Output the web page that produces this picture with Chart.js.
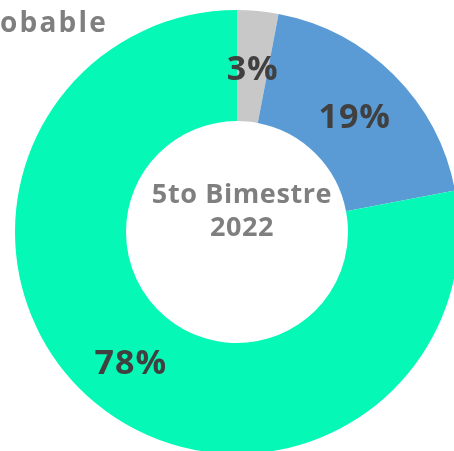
<!DOCTYPE html>
<html>
<head>
<meta charset="utf-8">
<script src="https://cdn.jsdelivr.net/npm/chart.js@4/dist/chart.umd.min.js"></script>
<style>
  body { margin: 0; width: 454px; height: 451px; overflow: hidden; background: #fff; position: relative; }
  #wrap { position: absolute; left: 0; top: 0; }
  #label { position: absolute; left: 0; top: 2px; font: bold 28px "Open Sans", sans-serif; letter-spacing: 2.2px; color: #7f7f7f; z-index: 2; }
</style>
</head>
<body>
<div id="label">obable</div>
<div id="wrap"><canvas id="myChart" width="474" height="464"></canvas></div>
<script>
const labels = ["Gris", "Azul", "Verde"];
const values = [3, 19, 78];
const colors = ["#c8c8c8", "#5b9bd5", "#05f8b5"];
const centerText = ["5to Bimestre", "2022"];

// porcentajes dentro de cada arco + texto central
const labelPlugin = {
    id: "labelPlugin",
    afterDraw(chart) {
        const ctx = chart.ctx;
        const meta = chart.getDatasetMeta(0);
        ctx.save();
        ctx.textAlign = "center";
        ctx.textBaseline = "middle";
        ctx.fillStyle = "#404040";
        ctx.font = "bold 34px 'Open Sans', sans-serif";
        ctx.letterSpacing = "1px";
        meta.data.forEach((arc, i) => {
            const p = arc.getCenterPoint();
            ctx.fillText(values[i] + "%", p.x, p.y + 4);
        });
        const cx = (chart.chartArea.left + chart.chartArea.right) / 2;
        const cy = (chart.chartArea.top + chart.chartArea.bottom) / 2;
        ctx.fillStyle = "#7f7f7f";
        ctx.font = "bold 27px 'Open Sans', sans-serif";
        ctx.letterSpacing = "0.6px";
        ctx.fillText(centerText[0], cx + 5, cy - 37);
        ctx.fillText(centerText[1], cx + 5, cy - 4);
        ctx.restore();
    }
};

let ctx = document.querySelector("#myChart").getContext("2d");
let myChart = new Chart(ctx, {
    type: "doughnut",
    data: {
        labels: labels,
        datasets: [{
            data: values,
            backgroundColor: colors,
            borderWidth: 0,
            hoverOffset: 0
        }]
    },
    options: {
        responsive: false,
        animation: false,
        cutout: "50%",
        layout: { padding: 10 },
        plugins: {
            legend: { display: false },
            tooltip: { enabled: false }
        }
    },
    plugins: [labelPlugin]
});
</script>
</body>
</html>
